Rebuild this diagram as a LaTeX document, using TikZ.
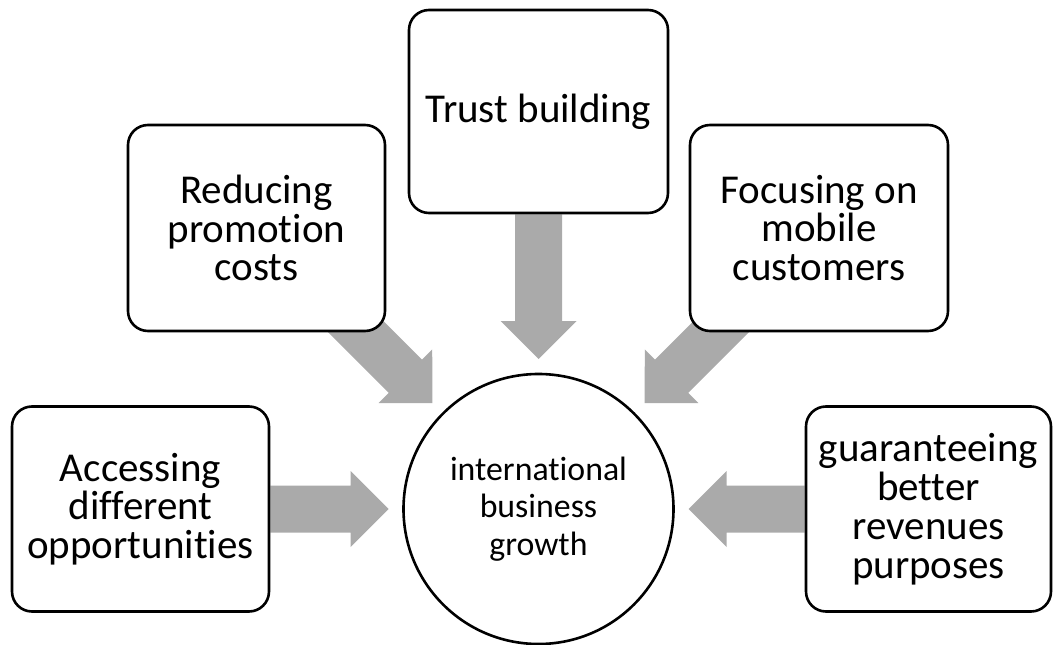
\documentclass[tikz,border=0pt]{standalone}
\usepackage{fontspec}
\setmainfont[Ligatures={NoCommon,NoRare,NoContextual}]{Carlito}
\usetikzlibrary{calc,backgrounds}
\definecolor{arrowgray}{RGB}{170,170,170}
\newcommand\boxfont{\fontsize{20.5pt}{19.4pt}\selectfont}
\newcommand\hubfont{\fontsize{16.9pt}{18.7pt}\selectfont}
% thick block arrow: shaft from #1, head ending at #2
\newcommand\blockarrow[2]{%
  \coordinate (hb) at ($(#2)!19pt!(#1)$);
  \fill[arrowgray] ($(#1)!11.75pt!90:(#2)$) -- ($(hb)!11.75pt!90:(#2)$)
    -- ($(hb)!19pt!90:(#2)$) -- (#2) -- ($(hb)!19pt!-90:(#2)$)
    -- ($(hb)!11.75pt!-90:(#2)$) -- ($(#1)!11.75pt!-90:(#2)$) -- cycle;}
\tikzset{
  topic/.style={draw, line width=1.3pt, rounded corners=10pt, fill=white,
    minimum width=128.5pt, minimum height=102.5pt, inner sep=0pt,
    align=center, font=\boxfont},
  hub/.style={draw, circle, line width=1.3pt, fill=white, minimum size=135pt,
    inner sep=0pt, align=center, font=\hubfont}
}
\begin{document}
\begin{tikzpicture}[x=0.5pt, y=0.5pt]
\useasboundingbox (0,0) rectangle (1055,644);
\node[hub] (c) at (538.5,135) {international\\business\\growth};
\node[topic] (acc) at (140.5,135) {Accessing\\different\\opportunities};
\node[topic, minimum height=103pt] (red) at (256.5,416) {Reducing\\promotion\\costs};
\node[topic, minimum width=129.5pt, minimum height=101.5pt] (tru) at (538.5,532.5) {Trust building};
\node[topic, minimum width=129pt, minimum height=103pt] (foc) at (819,416) {Focusing on\\mobile\\customers};
\node[topic, minimum width=122.5pt] (gua) at (928.5,135) {guaranteeing\\better\\revenues\\purposes};
% shaft origins hidden under the boxes
\coordinate (redTail) at (340,333);
\coordinate (focTail) at (737,333);
% arrow tips, just outside the circle
\coordinate (tipAcc) at ($(c.center)!75pt!(acc.east)$);
\coordinate (tipRed) at ($(c.center)!75pt!(redTail)$);
\coordinate (tipTru) at ($(c.center)!75pt!(tru.south)$);
\coordinate (tipFoc) at ($(c.center)!75pt!(focTail)$);
\coordinate (tipGua) at ($(c.center)!75pt!(gua.west)$);
\begin{scope}[on background layer]
  \blockarrow{acc.east}{tipAcc}
  \blockarrow{redTail}{tipRed}
  \blockarrow{tru.south}{tipTru}
  \blockarrow{focTail}{tipFoc}
  \blockarrow{gua.west}{tipGua}
\end{scope}
\end{tikzpicture}
\end{document}
